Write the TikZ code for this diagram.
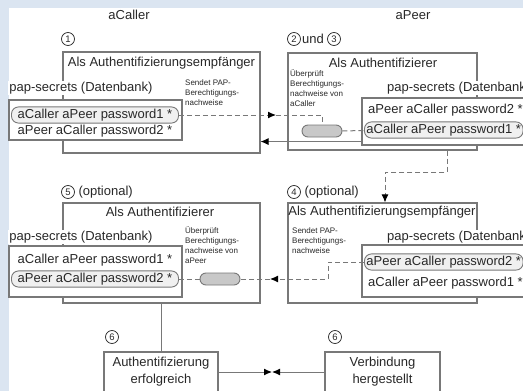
\documentclass[tikz,border=0pt]{standalone}
\usepackage{fontspec}
\setmainfont{Liberation Sans}
\usepackage{tikz}
\usetikzlibrary{arrows.meta,positioning,calc}
\definecolor{hgblau}{RGB}{219,229,241}
\definecolor{linie}{RGB}{120,120,120}
\definecolor{schrift}{RGB}{40,40,40}
\definecolor{kapselgrau}{RGB}{200,200,200}
\tikzstyle{rahmen} = [draw=linie, line width=1.1pt, fill=white, inner sep=0pt]
\tikzstyle{klein} = [font=\fontsize{8}{10}\selectfont, align=left, inner sep=0pt, anchor=north west]
\tikzstyle{kapsel} = [draw=linie, line width=0.9pt, fill=gray!12, rounded corners=7pt, inner sep=2pt]
\tikzstyle{mini} = [draw=linie, line width=0.9pt, fill=kapselgrau, rounded corners=6pt, minimum width=40, minimum height=12]
\tikzstyle{nummer} = [circle, draw=schrift, line width=0.7pt, minimum size=13, inner sep=0pt, font=\fontsize{9.5}{10}\selectfont]
\tikzstyle{fluss} = [draw=linie, line width=1pt, dash pattern=on 5pt off 3pt]
\tikzstyle{verbindung} = [draw=linie, line width=1pt]
\tikzstyle{pfeil} = [-{Latex[length=8pt,width=7pt,color=black]}]

\begin{document}
\begin{tikzpicture}[x=1pt,y=-1pt, font=\fontsize{13}{15}\selectfont, text=schrift]
	\path[use as bounding box, clip] (0,0) rectangle (523,391);
	% Hintergrund
	\fill[hgblau] (0,0) rectangle (523,391);
	\fill[white] (9,8) rectangle (523,391);

	% Kopfzeile
	\node (caller) at (129,15) {aCaller};
	\node (peer) at (413,15) {aPeer};

	% Schritt 1: aCaller als Authentifizierungsempfaenger
	\node[nummer] (n1) at (68,39) {1};
	\node[rahmen, minimum width=197, minimum height=101] (box1) at (161.5,102.5) {};
	\node (t1) at (161.5,63) {Als Authentifizierungsempfänger};
	\node[fill=white, inner sep=1pt] (db1l) at (81,88) {pap-secrets (Datenbank)};
	\node[rahmen, minimum width=173, minimum height=40] (db1) at (95.5,120) {};
	\node[kapsel, minimum width=167, minimum height=16] (p1a) at (95,115) {aCaller aPeer password1 *};
	\node (p1b) at (95,131) {aPeer aCaller password2 *};
	\node[klein] (s1) at (185,80) {Sendet PAP-\\Berechtigungs-\\nachweise};

	% Schritt 2 und 3: aPeer als Authentifizierer
	\node[nummer] (n2) at (294,39) {2};
	\node (und) at (313,39) {und};
	\node[nummer] (n3) at (334,39) {3};
	\node[rahmen, minimum width=189, minimum height=97] (box2) at (382.5,101.5) {};
	\node (t2) at (383,63) {Als Authentifizierer};
	\node[klein] (u2) at (290,70) {Überprüft\\Berechtigungs-\\nachweise von\\aCaller};
	\node[fill=white, inner sep=1pt, anchor=west] (db2l) at (386,88) {pap-secrets (Datenbank)};
	\node[rahmen, minimum width=170, minimum height=47] (db2) at (447,121.5) {};
	\node[anchor=west, inner sep=0pt] (p2a) at (368,110) {aPeer aCaller password2 *};
	\node[kapsel, anchor=west, minimum height=16] (p2b) at (364,130) {aCaller aPeer password1 *};
	\node[mini] (m2) at (322,131) {};

	% Verbindungen oben
	\coordinate (a1) at (276,115);
	\coordinate (k1) at (322,115);
	\draw[fluss, pfeil] (p1a.east) -- (a1);
	\draw[fluss] (a1) -- (k1) -- (m2);
	\draw[fluss] (m2) -- (p2b);
	\draw[verbindung, pfeil] ($(db2.south west)+(0,-4)$) coordinate (r2) -- (r2 -| box1.east);

	% Schritt 4: aPeer als Authentifizierungsempfaenger
	\node[nummer] (n4) at (294,192) {4};
	\node[anchor=west] (o4) at (301,192) {(optional)};
	\node[rahmen, minimum width=189, minimum height=100] (box4) at (382.5,253) {};
	\node (t4) at (382,212) {Als Authentifizierungsempfänger};
	\node[klein] (s4) at (292,228) {Sendet PAP-\\Berechtigungs-\\nachweise};
	\node[fill=white, inner sep=1pt, anchor=west] (db4l) at (386,237) {pap-secrets (Datenbank)};
	\node[rahmen, minimum width=170, minimum height=52] (db4) at (447,271) {};
	\node[kapsel, anchor=west, minimum height=16] (p4a) at (364,262) {aPeer aCaller password2 *};
	\node[anchor=west, inner sep=0pt] (p4b) at (368,283) {aCaller aPeer password1 *};

	% weiter zu Schritt 4
	\coordinate (k2) at (447,172);
	\coordinate (k3) at (385,172);
	\draw[fluss, pfeil] (k2 |- box2.south) -- (k2) -- (k3) -- (k3 |- box4.north);

	% Schritt 5: aCaller als Authentifizierer
	\node[nummer] (n5) at (68,192) {5};
	\node[anchor=west] (o5) at (75,192) {(optional)};
	\node[rahmen, minimum width=197, minimum height=100] (box5) at (161.5,253) {};
	\node (t5) at (160,212) {Als Authentifizierer};
	\node[fill=white, inner sep=1pt] (db5l) at (81,237) {pap-secrets (Datenbank)};
	\node[rahmen, minimum width=173, minimum height=51] (db5) at (95.5,271.5) {};
	\node (p5a) at (95,260) {aCaller aPeer password1 *};
	\node[kapsel, minimum width=167, minimum height=16] (p5b) at (95,279) {aPeer aCaller password2 *};
	\node[klein] (u5) at (185,227) {Überprüft\\Berechtigungs-\\nachweise von\\aPeer};
	\node[mini] (m5) at (220,279) {};

	% Verbindungen Mitte
	\coordinate (k4) at (328,262);
	\coordinate (k5) at (328,279);
	\coordinate (a4) at (270,279);
	\draw[fluss, pfeil] (p4a.west) -- (k4) -- (k5) -- (a4);
	\draw[fluss] (a4) -- (m5);
	\draw[fluss] (p5b) -- (m5);

	% Schritt 6
	\node[nummer] (n6a) at (112,337) {6};
	\node[nummer] (n6b) at (335,337) {6};
	\node[rahmen, minimum width=114, minimum height=40, align=center, font=\fontsize{13}{17}\selectfont] (ok) at (161,372) {Authentifizierung\\erfolgreich};
	\node[rahmen, minimum width=115, minimum height=40, align=center, font=\fontsize{13}{17}\selectfont] (vb) at (382.5,372) {Verbindung\\hergestellt};
	\draw[verbindung] (box5.south) -- (box5.south |- ok.north);
	\coordinate (bt) at (272,372);
	\draw[verbindung, pfeil] (ok) -- (bt);
	\draw[verbindung, pfeil] (vb) -- (bt);
\end{tikzpicture}
\end{document}
